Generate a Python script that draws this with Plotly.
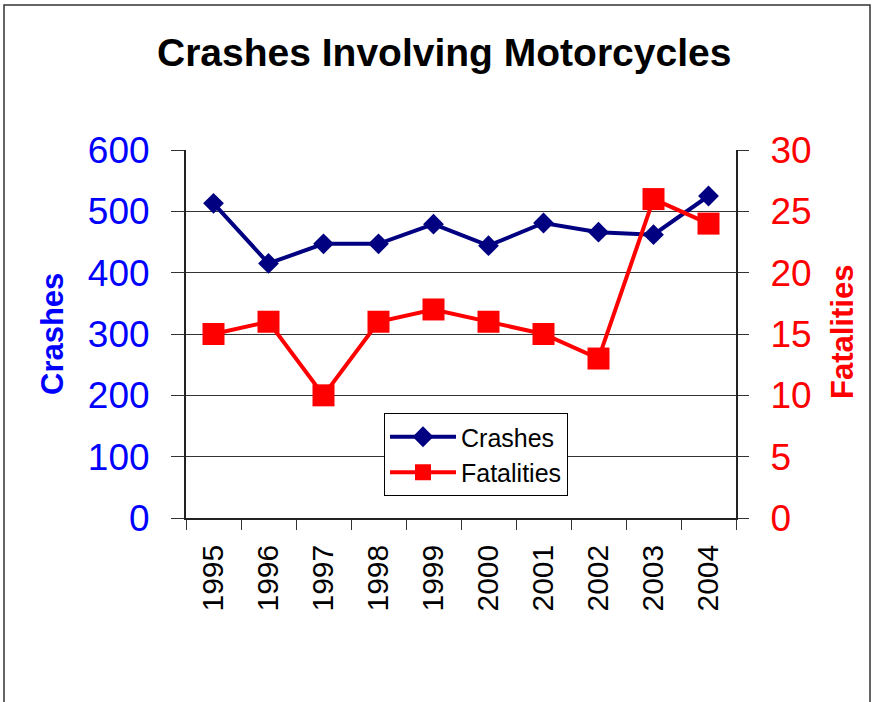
import plotly.graph_objects as go

years = ["1995", "1996", "1997", "1998", "1999", "2000", "2001", "2002", "2003", "2004"]
crashes = [513, 415, 447, 447, 479, 444, 481, 466, 462, 525]
fatalities = [15, 16, 10, 16, 17, 16, 15, 13, 26, 24]

FONT = "Liberation Sans, Arial, sans-serif"

fig = go.Figure()
fig.add_trace(go.Scatter(
    x=years, y=crashes, name="Crashes", mode="lines+markers",
    line=dict(color="#000080", width=4),
    marker=dict(symbol="diamond", size=16, color="#000080"),
    yaxis="y"))
fig.add_trace(go.Scatter(
    x=years, y=fatalities, name="Fatalities", mode="lines+markers",
    line=dict(color="#ff0000", width=4),
    marker=dict(symbol="square", size=22, color="#ff0000"),
    yaxis="y2"))

L, R, T, B = 186, 736, 150, 518
W, H = 873, 702
pw, ph = R - L, B - T

def px(x):
    return (x - L) / pw

def py(y):
    return (B - y) / ph

fig.update_layout(
    width=W, height=H,
    margin=dict(l=L, r=W - R, t=T, b=H - B, autoexpand=False),
    paper_bgcolor="white", plot_bgcolor="white",
    font=dict(family=FONT, color="black"),
    showlegend=True,
    legend=dict(
        x=px(384), y=py(413), xanchor="left", yanchor="top",
        bgcolor="white", bordercolor="black", borderwidth=1,
        font=dict(size=25, family=FONT, color="black"),
        tracegroupgap=0, itemwidth=66,
    ),
    xaxis=dict(
        type="category", range=[-0.5, len(years) - 0.5],
        tickson="boundaries", ticks="outside", ticklen=10,
        tickcolor="#333", tickangle=-90, showgrid=False,
        showline=True, linecolor="#222", linewidth=1.5,
        tickfont=dict(size=30, family=FONT, color="black"),
        ticklabelstandoff=13,
    ),
    yaxis=dict(
        range=[0, 600], dtick=100, ticks="outside", ticklen=13, tickcolor="#333",
        showgrid=True, gridcolor="#333", gridwidth=1,
        showline=True, linecolor="#222", linewidth=2,
        tickfont=dict(size=37, family=FONT, color="#0000ff"),
        ticklabelstandoff=14, zeroline=False,
    ),
    yaxis2=dict(
        range=[0, 30], dtick=5, overlaying="y", side="right",
        ticks="outside", ticklen=11, tickcolor="#333", showgrid=False,
        showline=True, linecolor="#222", linewidth=2,
        tickfont=dict(size=37, family=FONT, color="#ff0000"),
        ticklabelstandoff=14, zeroline=False,
    ),
    annotations=[
        dict(text="<b>Crashes Involving Motorcycles</b>", xref="paper", yref="paper",
             x=px(443.5), y=py(52), xanchor="center", yanchor="middle",
             showarrow=False, font=dict(size=39, family=FONT, color="black")),
        dict(text="<b>Crashes</b>", xref="paper", yref="paper",
             x=px(52), y=py(334), xanchor="center", yanchor="middle", textangle=-90,
             showarrow=False, font=dict(size=31, family=FONT, color="#0000ff")),
        dict(text="<b>Fatalities</b>", xref="paper", yref="paper",
             x=px(842), y=py(332), xanchor="center", yanchor="middle", textangle=-90,
             showarrow=False, font=dict(size=31, family=FONT, color="#ff0000")),
    ],
    shapes=[
        dict(type="rect", xref="paper", yref="paper",
             x0=px(4), x1=px(870), y0=py(5), y1=py(720),
             line=dict(color="#333", width=1.5), fillcolor="rgba(0,0,0,0)", layer="below"),
    ],
)

fig.write_html(
    "out.html",
    config={"displayModeBar": False},
    post_script="document.body.style.margin='0';document.body.style.overflow='hidden';",
)
